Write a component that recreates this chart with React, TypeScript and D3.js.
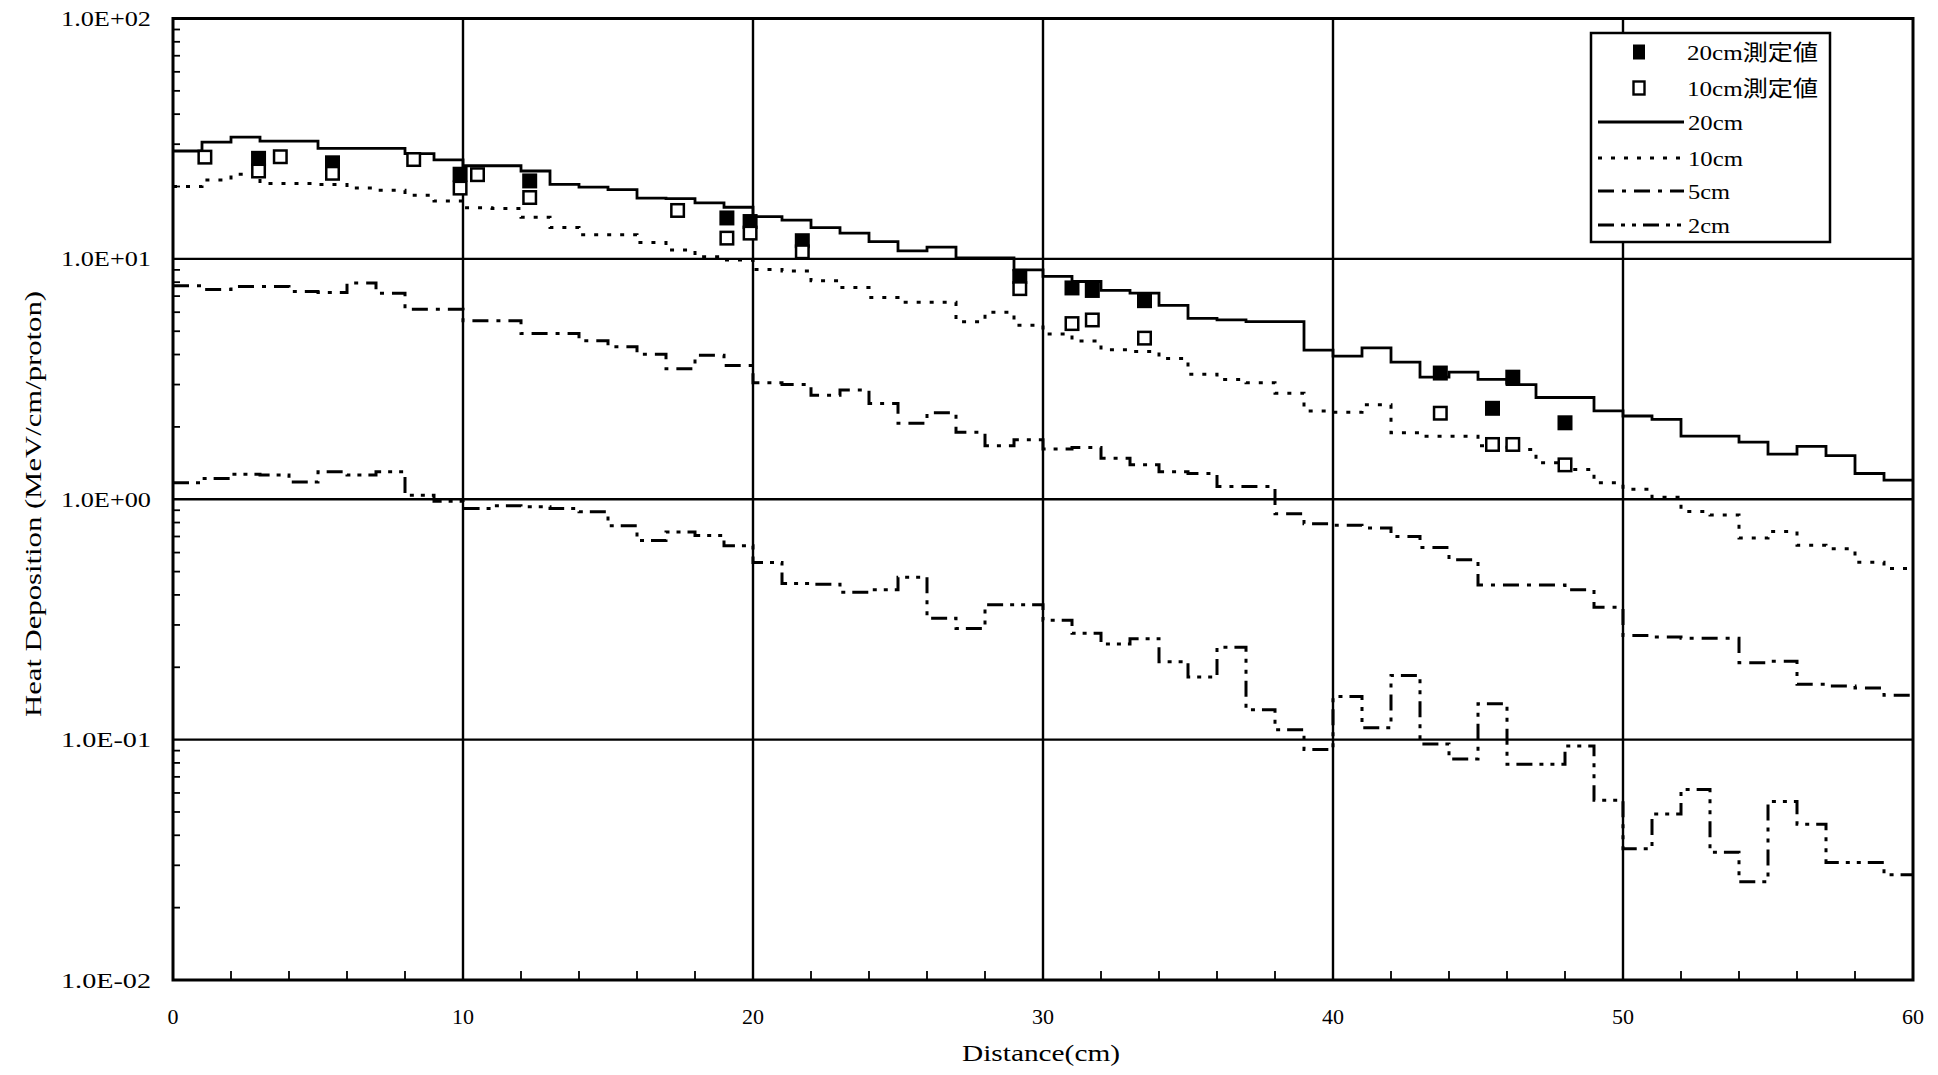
import React from "react";
import * as d3 from "d3";

// Simulated heat deposition per 1 cm bin (MeV/cm/proton), bins start at 0 cm
const BIN_WIDTH = 1;
const sim20cm = [
  28.1, 30.6, 32.1, 30.9, 30.9, 28.8, 28.8, 28.8, 27.4, 25.8,
  24.4, 24.4, 23.2, 20.4, 19.9, 19.4, 17.9, 17.8, 17.1, 16.4,
  15.0, 14.5, 13.5, 12.8, 11.8, 10.8, 11.2, 10.1, 10.1, 9.0,
  8.45, 8.05, 7.4, 7.2, 6.4, 5.66, 5.57, 5.48, 5.48, 4.17,
  3.94, 4.26, 3.72, 3.22, 3.38, 3.15, 3.0, 2.65, 2.65, 2.33,
  2.22, 2.15, 1.83, 1.83, 1.73, 1.54, 1.66, 1.52, 1.28, 1.2,
];
const sim10cm = [
  20.0, 21.3, 22.5, 20.6, 20.6, 20.4, 19.7, 19.3, 18.4, 17.4,
  16.3, 16.2, 14.9, 13.5, 12.6, 12.6, 11.7, 10.9, 10.2, 9.9,
  9.04, 8.9, 8.1, 7.6, 6.9, 6.6, 6.6, 5.47, 6.0, 5.3,
  4.87, 4.55, 4.19, 4.12, 3.85, 3.31, 3.15, 3.05, 2.76, 2.33,
  2.3, 2.47, 1.89, 1.83, 1.83, 1.67, 1.61, 1.42, 1.33, 1.17,
  1.1, 1.02, 0.89, 0.86, 0.69, 0.735, 0.643, 0.622, 0.547, 0.515,
];
const sim5cm = [
  7.73, 7.45, 7.68, 7.68, 7.31, 7.24, 7.94, 7.2, 6.17, 6.17,
  5.53, 5.53, 4.89, 4.89, 4.56, 4.31, 4.01, 3.49, 3.97, 3.6,
  3.05, 3.0, 2.71, 2.85, 2.5, 2.07, 2.29, 1.9, 1.67, 1.77,
  1.62, 1.64, 1.48, 1.39, 1.3, 1.28, 1.13, 1.13, 0.87, 0.79,
  0.78, 0.76, 0.7, 0.63, 0.56, 0.44, 0.44, 0.44, 0.42, 0.355,
  0.271, 0.267, 0.264, 0.264, 0.209, 0.212, 0.17, 0.167, 0.164, 0.153,
];
const sim2cm = [
  1.17, 1.22, 1.27, 1.26, 1.18, 1.3, 1.26, 1.3, 1.04, 0.98,
  0.916, 0.94, 0.93, 0.916, 0.887, 0.775, 0.673, 0.73, 0.707, 0.641,
  0.545, 0.446, 0.443, 0.41, 0.42, 0.474, 0.32, 0.29, 0.364, 0.364,
  0.314, 0.277, 0.25, 0.263, 0.211, 0.182, 0.242, 0.133, 0.11, 0.091,
  0.151, 0.112, 0.185, 0.096, 0.083, 0.141, 0.079, 0.079, 0.094, 0.056,
  0.0352, 0.049, 0.062, 0.034, 0.0256, 0.0553, 0.0445, 0.0308, 0.0308, 0.0274,
];

// Measured values: [distance (cm), heat deposition]
const measured20cm: [number, number][] = [
  [2.95, 26.2], [5.5, 25.1], [9.9, 22.5], [12.3, 21.1], [19.1, 14.8],
  [19.9, 14.3], [21.7, 11.9], [29.2, 8.45], [31.0, 7.57], [31.7, 7.39],
  [33.5, 6.7], [43.7, 3.35], [45.5, 2.39], [46.2, 3.22], [48.0, 2.08],
];
const measured10cm: [number, number][] = [
  [1.1, 26.5], [2.95, 23.2], [3.7, 26.6], [5.5, 22.7], [8.3, 25.9],
  [9.9, 19.7], [10.5, 22.4], [12.3, 18.0], [17.4, 15.9], [19.1, 12.2],
  [19.9, 12.8], [21.7, 10.7], [29.2, 7.52], [31.0, 5.38], [31.7, 5.57],
  [33.5, 4.68], [43.7, 2.28], [45.5, 1.69], [46.2, 1.69], [48.0, 1.39],
];

const xTicks = [0, 10, 20, 30, 40, 50, 60];
const xMinorTicks = [2, 4, 6, 8, 12, 14, 16, 18, 22, 24, 26, 28, 32, 34, 36, 38, 42, 44, 46, 48, 52, 54, 56, 58];
const yTicks = [0.01, 0.1, 1, 10, 100];
const yTickLabels = ["1.0E-02", "1.0E-01", "1.0E+00", "1.0E+01", "1.0E+02"];

const seriesNames = ["20cm", "10cm", "5cm", "2cm"];
const measuredNames = ["20cm測定値", "10cm測定値"];

const W = 1938;
const H = 1075;
const PLOT = { left: 173, right: 1913, top: 18.5, bottom: 980 };

const SERIF = "'Liberation Serif', 'DejaVu Serif', serif";
const LEGEND_FONT = "'Liberation Serif', 'Noto Sans CJK JP', serif";

const seriesStyle = [
  { width: 2.8, dash: undefined as string | undefined },
  { width: 3, dash: "4 9" },
  { width: 3, dash: "16 8 4 8" },
  { width: 3, dash: "16 7 4 7 4 7" },
];

export default function App() {
  const x = d3.scaleLinear().domain([0, 60]).range([PLOT.left, PLOT.right]);
  const y = d3.scaleLog().domain([0.01, 100]).range([PLOT.bottom, PLOT.top]);

  const stepLine = d3
    .line<[number, number]>()
    .x((d) => x(d[0]))
    .y((d) => y(d[1]))
    .curve(d3.curveStepAfter);

  const toSteps = (vals: number[]): [number, number][] => [
    ...vals.map((v, i) => [i * BIN_WIDTH, v] as [number, number]),
    [vals.length * BIN_WIDTH, vals[vals.length - 1]],
  ];

  const series = [sim20cm, sim10cm, sim5cm, sim2cm];

  const yMinor: number[] = [];
  [0.01, 0.1, 1, 10].forEach((d) => {
    for (let k = 2; k <= 9; k++) yMinor.push(d * k);
  });

  const sq = 15;

  // legend geometry
  const lg = { x: 1591, y: 33, w: 239, h: 209 };
  const rowY = [52, 88, 122, 158, 191, 225];

  return (
    <svg
      width={W}
      height={H}
      viewBox={`0 0 ${W} ${H}`}
      style={{ position: "absolute", left: 0, top: 0, background: "#fff" }}
    >
      <rect x={0} y={0} width={W} height={H} fill="#fff" />

      {/* grid lines */}
      {xTicks.slice(1, -1).map((t) => (
        <line key={"gx" + t} x1={x(t)} x2={x(t)} y1={PLOT.top} y2={PLOT.bottom} stroke="#000" strokeWidth={2.4} />
      ))}
      {yTicks.slice(1, -1).map((t) => (
        <line key={"gy" + t} x1={PLOT.left} x2={PLOT.right} y1={y(t)} y2={y(t)} stroke="#000" strokeWidth={2.4} />
      ))}

      {/* minor ticks */}
      {yMinor.map((v, i) => (
        <line key={"ym" + i} x1={PLOT.left} x2={PLOT.left + 7} y1={y(v)} y2={y(v)} stroke="#000" strokeWidth={1.8} />
      ))}
      {xMinorTicks.map((v) => (
        <line key={"xm" + v} x1={x(v)} x2={x(v)} y1={PLOT.bottom} y2={PLOT.bottom - 9} stroke="#000" strokeWidth={1.8} />
      ))}

      {/* frame */}
      <rect
        x={PLOT.left}
        y={PLOT.top}
        width={PLOT.right - PLOT.left}
        height={PLOT.bottom - PLOT.top}
        fill="none"
        stroke="#000"
        strokeWidth={3}
      />

      {/* simulated step curves */}
      {series.map((vals, i) => (
        <path
          key={"s" + i}
          d={stepLine(toSteps(vals)) || ""}
          fill="none"
          stroke="#000"
          strokeWidth={seriesStyle[i].width}
          strokeDasharray={seriesStyle[i].dash}
        />
      ))}

      {/* measured points */}
      {measured20cm.map((d, i) => (
        <rect key={"m20" + i} x={x(d[0]) - sq / 2} y={y(d[1]) - sq / 2} width={sq} height={sq} fill="#000" />
      ))}
      {measured10cm.map((d, i) => (
        <rect
          key={"m10" + i}
          x={x(d[0]) - (sq - 2.5) / 2}
          y={y(d[1]) - (sq - 2.5) / 2}
          width={sq - 2.5}
          height={sq - 2.5}
          fill="#fff"
          stroke="#000"
          strokeWidth={2.5}
        />
      ))}

      {/* y tick labels */}
      {yTicks.map((t, i) => (
        <text
          key={"yl" + t}
          x={151}
          y={y(t)}
          textAnchor="end"
          dominantBaseline="central"
          fontFamily={SERIF}
          fontSize={22}
          textLength={90}
          lengthAdjust="spacingAndGlyphs"
        >
          {yTickLabels[i]}
        </text>
      ))}

      {/* x tick labels */}
      {xTicks.map((t) => (
        <text
          key={"xl" + t}
          x={x(t)}
          y={1024}
          textAnchor="middle"
          fontFamily={SERIF}
          fontSize={22}
        >
          {t}
        </text>
      ))}

      {/* axis titles */}
      <text
        x={1041}
        y={1061}
        textAnchor="middle"
        fontFamily={SERIF}
        fontSize={23}
        textLength={158}
        lengthAdjust="spacingAndGlyphs"
      >
        Distance(cm)
      </text>
      <text
        transform="translate(41,504) rotate(-90)"
        x={0}
        y={0}
        textAnchor="middle"
        fontFamily={SERIF}
        fontSize={23}
        textLength={426}
        lengthAdjust="spacingAndGlyphs"
      >
        Heat Deposition (MeV/cm/proton)
      </text>

      {/* legend */}
      <rect x={lg.x} y={lg.y} width={lg.w} height={lg.h} fill="#fff" stroke="#000" strokeWidth={2.5} />
      <rect x={1639 - 6} y={rowY[0] - 7.5} width={12} height={15} fill="#000" />
      <rect x={1639 - 5.5} y={rowY[1] - 6.5} width={11} height={13} fill="#fff" stroke="#000" strokeWidth={2.4} />
      {measuredNames.map((n, i) => (
        <text
          key={"ln" + i}
          x={1687}
          y={rowY[i]}
          dominantBaseline="central"
          fontFamily={LEGEND_FONT}
          fontSize={22}
          textLength={131}
          lengthAdjust="spacingAndGlyphs"
        >
          {n}
        </text>
      ))}
      {seriesNames.map((n, i) => (
        <g key={"ls" + i}>
          <line
            x1={1598}
            x2={1684}
            y1={rowY[i + 2]}
            y2={rowY[i + 2]}
            stroke="#000"
            strokeWidth={seriesStyle[i].width}
            strokeDasharray={seriesStyle[i].dash}
          />
          <text
            x={1688}
            y={rowY[i + 2]}
            dominantBaseline="central"
            fontFamily={LEGEND_FONT}
            fontSize={22}
            textLength={n.length === 4 ? 55 : 42}
            lengthAdjust="spacingAndGlyphs"
          >
            {n}
          </text>
        </g>
      ))}
    </svg>
  );
}
